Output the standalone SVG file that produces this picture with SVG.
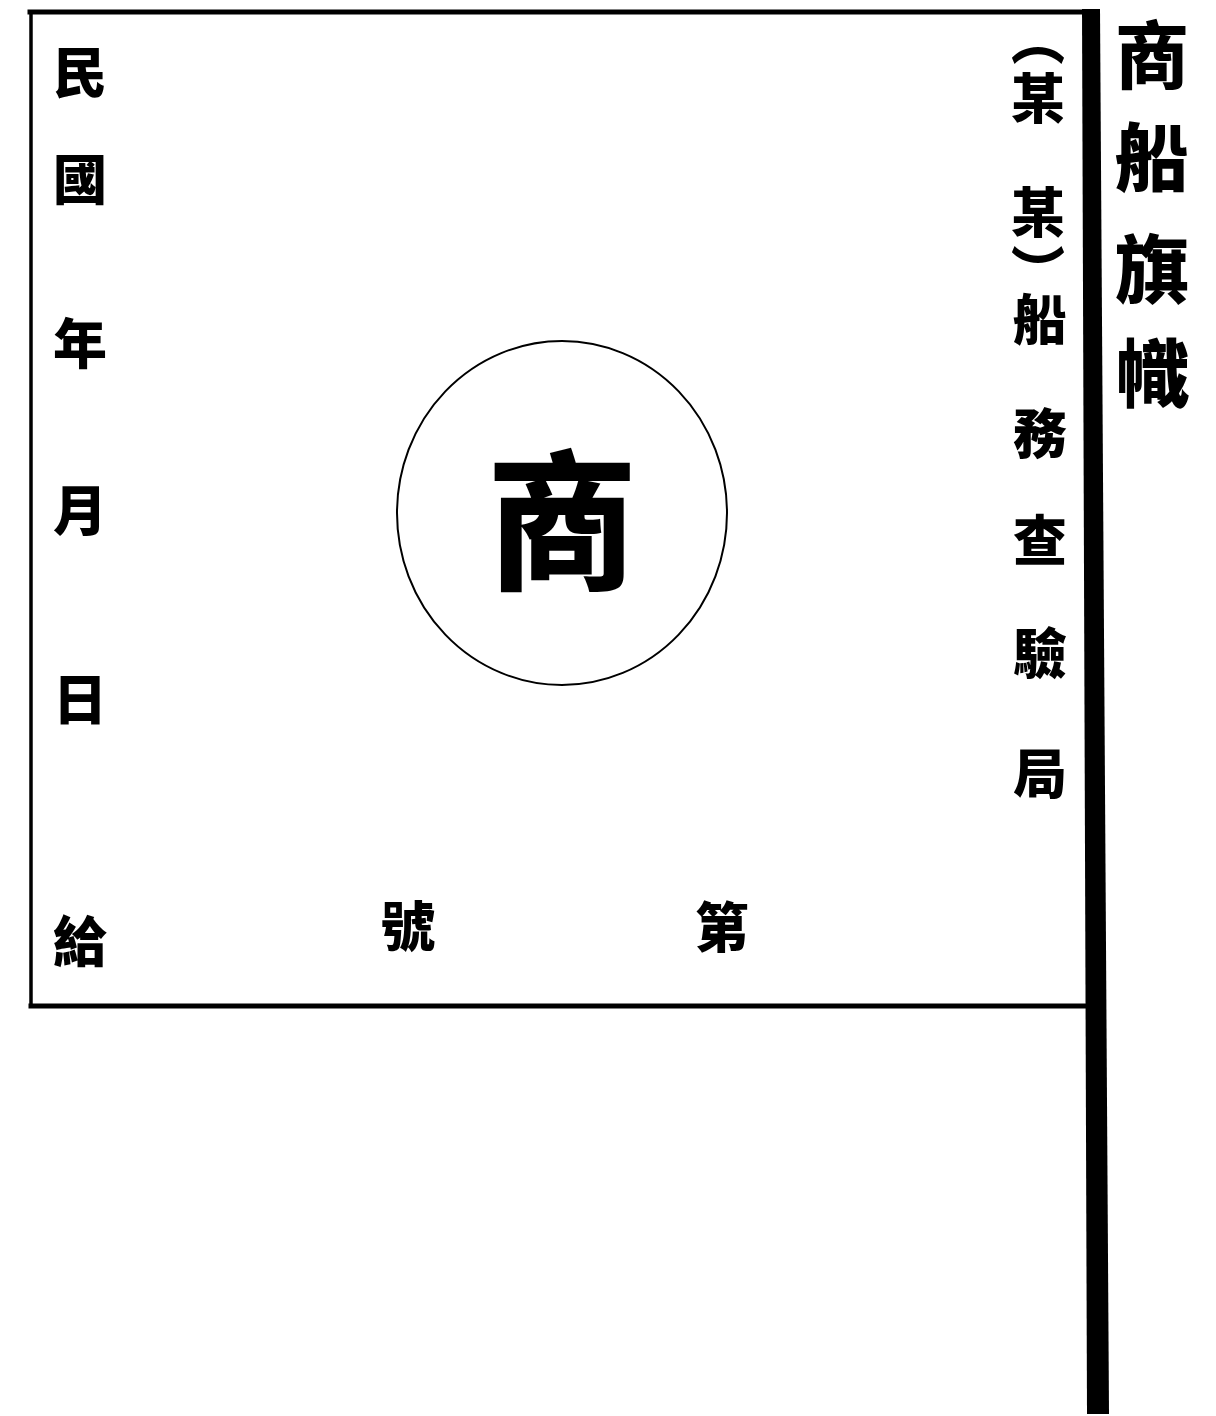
<svg xmlns="http://www.w3.org/2000/svg" width="1216" height="1416" viewBox="0 0 1216 1416">
<style>
text{font-family:"Noto Sans CJK TC","Noto Sans CJK SC",sans-serif;font-weight:900;fill:#000;text-anchor:middle;dominant-baseline:central}
.s{font-size:54px}
.t{font-size:74px}
.b{font-size:150px}
.ln{stroke:#000;fill:none;stroke-linecap:square}
</style>
<rect width="1216" height="1416" fill="#fff"/>
<g id="flag">
<line class="ln" x1="30" y1="12" x2="1090" y2="12" stroke-width="5"/>
<line class="ln" x1="31" y1="12" x2="31" y2="1005" stroke-width="3.5"/>
<line class="ln" x1="31" y1="1006" x2="1085" y2="1006" stroke-width="5"/>
</g>
<g id="pole">
<polygon points="1082,9 1100,9 1109,1414 1087,1414" fill="#000"/>
</g>
<g id="emblem">
<ellipse cx="562" cy="513" rx="165" ry="172" fill="none" stroke="#000" stroke-width="2"/>
<text class="b" x="562" y="512">商</text>
</g>
<g id="title">
<text class="t" x="1152" y="50">商</text>
<text class="t" x="1152" y="152">船</text>
<text class="t" x="1152" y="264">旗</text>
<text class="t" x="1152" y="368">幟</text>
</g>
<g id="issuer">
<text class="s" x="1038" y="36">︵</text>
<text class="s" x="1038" y="95">某</text>
<text class="s" x="1038" y="209">某</text>
<text class="s" x="1038" y="268">︶</text>
<text class="s" x="1040" y="316">船</text>
<text class="s" x="1040" y="430">務</text>
<text class="s" x="1040" y="537">查</text>
<text class="s" x="1040" y="650">驗</text>
<text class="s" x="1040" y="770">局</text>
</g>
<g id="date">
<text class="s" x="80" y="69">民</text>
<text class="s" x="80" y="176">國</text>
<text class="s" x="80" y="340">年</text>
<text class="s" x="80" y="507">月</text>
<text class="s" x="80" y="696">日</text>
<text class="s" x="80" y="938">給</text>
</g>
<g id="number">
<text class="s" x="722" y="924">第</text>
<text class="s" x="408" y="923">號</text>
</g>
</svg>
